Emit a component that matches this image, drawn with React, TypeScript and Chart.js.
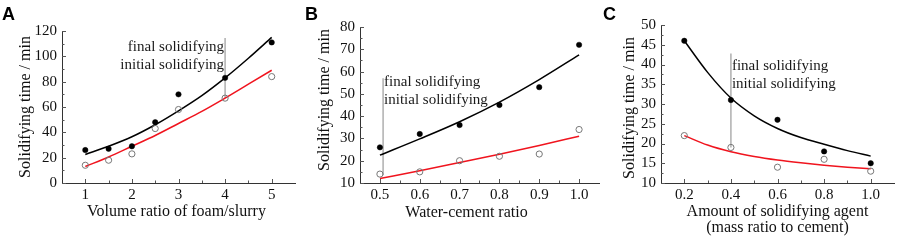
import React, { useEffect, useRef } from "react";
import { Chart, registerables } from "chart.js";
Chart.register(...registerables);

// ---------- Panel A data ----------
const A_X = [1, 1.5, 2, 2.5, 3, 4, 5];
const A_FINAL = [26, 27, 29, 48, 70, 83, 111];
const A_INITIAL = [14, 18, 23, 43, 58, 67, 84];
const A_FIT_X = [1, 1.5, 2, 2.5, 3, 3.5, 4, 4.5, 5];
const A_FIT_FINAL = [22.5, 29, 36.5, 46, 57, 69, 83, 98.5, 115];
const A_FIT_INITIAL = [13, 20.5, 29, 37.5, 47, 56.5, 67, 78, 89];
const A_XTICKS = [1, 2, 3, 4, 5];
const A_XLABELS = ["1", "2", "3", "4", "5"];
const A_XMINOR = [1.5, 2.5, 3.5, 4.5];
const A_YTICKS = [0, 20, 40, 60, 80, 100, 120];
const A_YLABELS = ["0", "20", "40", "60", "80", "100", "120"];
const A_YMINOR = [10, 30, 50, 70, 90, 110];

// ---------- Panel B data ----------
const B_X = [0.5, 0.6, 0.7, 0.8, 0.9, 1.0];
const B_FINAL = [26, 32, 36, 45, 53, 72];
const B_INITIAL = [14, 15, 20, 22, 23, 34];
const B_FIT_X = [0.5, 0.6, 0.7, 0.8, 0.9, 1.0];
const B_FIT_FINAL = [22.5, 29.8, 37.5, 46.3, 56.4, 67.5];
const B_FIT_INITIAL = [12, 15.5, 19.2, 22.9, 26.8, 31];
const B_XTICKS = [0.5, 0.6, 0.7, 0.8, 0.9, 1.0];
const B_XLABELS = ["0.5", "0.6", "0.7", "0.8", "0.9", "1.0"];
const B_XMINOR = [0.55, 0.65, 0.75, 0.85, 0.95];
const B_YTICKS = [10, 20, 30, 40, 50, 60, 70, 80];
const B_YLABELS = ["10", "20", "30", "40", "50", "60", "70", "80"];
const B_YMINOR = [15, 25, 35, 45, 55, 65, 75];

// ---------- Panel C data ----------
const C_X = [0.2, 0.4, 0.6, 0.8, 1.0];
const C_FINAL = [46, 31, 26, 18, 15];
const C_INITIAL = [22, 19, 14, 16, 13];
const C_FIT_X = [0.2, 0.3, 0.4, 0.5, 0.6, 0.7, 0.8, 0.9, 1.0];
const C_FIT_FINAL = [46, 38, 31.5, 27, 23.8, 21.5, 19.8, 18.2, 16.8];
const C_FIT_INITIAL = [22, 19.6, 17.9, 16.7, 15.8, 15.1, 14.5, 14, 13.6];
const C_XTICKS = [0.2, 0.4, 0.6, 0.8, 1.0];
const C_XLABELS = ["0.2", "0.4", "0.6", "0.8", "1.0"];
const C_XMINOR = [0.3, 0.5, 0.7, 0.9];
const C_YTICKS = [10, 15, 20, 25, 30, 35, 40, 45, 50];
const C_YLABELS = ["10", "15", "20", "25", "30", "35", "40", "45", "50"];
const C_YMINOR = [12.5, 17.5, 22.5, 27.5, 32.5, 37.5, 42.5, 47.5];

const Y_TITLE = "Solidifying time / min";
const LEGEND_FINAL = "final solidifying";
const LEGEND_INITIAL = "initial solidifying";

const SERIF = "'Liberation Serif', 'Times New Roman', serif";
const SANS = "'Liberation Sans', Arial, sans-serif";
const H = 240;

type Panel = {
  id: string;
  letter: string;
  letterX: number;
  canvasLeft: number;
  width: number;
  left: number;
  right: number;
  top: number;
  bottom: number;
  xMin: number;
  xMax: number;
  yMin: number;
  yMax: number;
  xs: number[];
  final: number[];
  initial: number[];
  fitX: number[];
  fitFinal: number[];
  fitInitial: number[];
  xTicks: number[];
  xLabels: string[];
  xMinor: number[];
  yTicks: number[];
  yLabels: string[];
  yMinor: number[];
  xTitle: string[];
  xTitleShift: number;
  xTitleBaselines: number[];
  yTitleX: number;
  yTitleCY: number;
  marker: { x: number; y0: number; y1: number };
  textSide: "left" | "right";
  textBaselines: number[];
};

const PANELS: Panel[] = [
  {
    id: "A", letter: "A", letterX: 2, canvasLeft: 0, width: 300,
    left: 62, right: 298, top: 31, bottom: 183,
    xMin: 0.5, xMax: 5.5, yMin: 0, yMax: 120,
    xs: A_X, final: A_FINAL, initial: A_INITIAL,
    fitX: A_FIT_X, fitFinal: A_FIT_FINAL, fitInitial: A_FIT_INITIAL,
    xTicks: A_XTICKS, xLabels: A_XLABELS, xMinor: A_XMINOR,
    yTicks: A_YTICKS, yLabels: A_YLABELS, yMinor: A_YMINOR,
    xTitle: ["Volume ratio of foam/slurry"], xTitleShift: -2, xTitleBaselines: [215.5],
    yTitleX: 30, yTitleCY: 107,
    marker: { x: 4, y0: 67, y1: 114.5 }, textSide: "left", textBaselines: [50.5, 69],
  },
  {
    id: "B", letter: "B", letterX: 5, canvasLeft: 300, width: 304,
    left: 60, right: 302, top: 27, bottom: 183,
    xMin: 0.45, xMax: 1.05, yMin: 10, yMax: 80,
    xs: B_X, final: B_FINAL, initial: B_INITIAL,
    fitX: B_FIT_X, fitFinal: B_FIT_FINAL, fitInitial: B_FIT_INITIAL,
    xTicks: B_XTICKS, xLabels: B_XLABELS, xMinor: B_XMINOR,
    yTicks: B_YTICKS, yLabels: B_YLABELS, yMinor: B_YMINOR,
    xTitle: ["Water-cement ratio"], xTitleShift: -13, xTitleBaselines: [216.5],
    yTitleX: 29, yTitleCY: 100,
    marker: { x: 0.508, y0: 13.5, y1: 57 }, textSide: "right", textBaselines: [86, 104],
  },
  {
    id: "C", letter: "C", letterX: 3, canvasLeft: 600, width: 299,
    left: 61, right: 297, top: 25, bottom: 183,
    xMin: 0.1, xMax: 1.1, yMin: 10, yMax: 50,
    xs: C_X, final: C_FINAL, initial: C_INITIAL,
    fitX: C_FIT_X, fitFinal: C_FIT_FINAL, fitInitial: C_FIT_INITIAL,
    xTicks: C_XTICKS, xLabels: C_XLABELS, xMinor: C_XMINOR,
    yTicks: C_YTICKS, yLabels: C_YLABELS, yMinor: C_YMINOR,
    xTitle: ["Amount of solidifying agent", "(mass ratio to cement)"], xTitleShift: 0,
    xTitleBaselines: [215.5, 232],
    yTitleX: 34, yTitleCY: 108,
    marker: { x: 0.4, y0: 19, y1: 42.8 }, textSide: "right", textBaselines: [69.5, 87.5],
  },
];

const zip = (xs: number[], ys: number[]) => xs.map((x, i) => ({ x, y: ys[i] }));

function makeDeco(p: Panel) {
  return {
    id: "deco" + p.id,
    beforeDatasetsDraw(chart: any) {
      const { ctx, scales } = chart;
      const xs = scales.x;
      const ys = scales.y;
      const mx = xs.getPixelForValue(p.marker.x);
      ctx.save();
      ctx.strokeStyle = "#b4b4b4";
      ctx.lineWidth = 1.6;
      ctx.beginPath();
      ctx.moveTo(mx, ys.getPixelForValue(p.marker.y0));
      ctx.lineTo(mx, ys.getPixelForValue(p.marker.y1));
      ctx.stroke();
      ctx.restore();
    },
    afterDraw(chart: any) {
      const { ctx, scales, chartArea } = chart;
      const xs = scales.x;
      const ys = scales.y;
      ctx.save();
      // inward tick marks
      ctx.strokeStyle = "#555";
      ctx.lineWidth = 1;
      ctx.beginPath();
      const b = chartArea.bottom;
      const l = chartArea.left;
      p.xTicks.forEach((v) => {
        const px = Math.round(xs.getPixelForValue(v)) + 0.5;
        ctx.moveTo(px, b);
        ctx.lineTo(px, b - 4);
      });
      p.xMinor.forEach((v) => {
        const px = Math.round(xs.getPixelForValue(v)) + 0.5;
        ctx.moveTo(px, b);
        ctx.lineTo(px, b - 2.5);
      });
      p.yTicks.forEach((v) => {
        const py = Math.round(ys.getPixelForValue(v)) + 0.5;
        ctx.moveTo(l, py);
        ctx.lineTo(l + 4, py);
      });
      p.yMinor.forEach((v) => {
        const py = Math.round(ys.getPixelForValue(v)) + 0.5;
        ctx.moveTo(l, py);
        ctx.lineTo(l + 2.5, py);
      });
      ctx.stroke();

      // axis titles
      ctx.fillStyle = "#111";
      ctx.font = `16px ${SERIF}`;
      ctx.textAlign = "center";
      ctx.textBaseline = "alphabetic";
      const cx = (chartArea.left + chartArea.right) / 2 + p.xTitleShift;
      p.xTitle.forEach((t, i) => ctx.fillText(t, cx, p.xTitleBaselines[i]));
      ctx.save();
      ctx.translate(p.yTitleX, p.yTitleCY);
      ctx.rotate(-Math.PI / 2);
      ctx.fillText(Y_TITLE, 0, 0);
      ctx.restore();

      // legend-like annotation text
      const mx = xs.getPixelForValue(p.marker.x);
      ctx.font = `15px ${SERIF}`;
      ctx.fillStyle = "#1a1a1a";
      if (p.textSide === "left") {
        ctx.textAlign = "right";
        ctx.fillText(LEGEND_FINAL, mx - 1, p.textBaselines[0]);
        ctx.fillText(LEGEND_INITIAL, mx - 1, p.textBaselines[1]);
      } else {
        ctx.textAlign = "left";
        ctx.fillText(LEGEND_FINAL, mx + 1, p.textBaselines[0]);
        ctx.fillText(LEGEND_INITIAL, mx + 1, p.textBaselines[1]);
      }

      // panel letter
      ctx.font = `bold 18px ${SANS}`;
      ctx.fillStyle = "#000";
      ctx.textAlign = "left";
      ctx.fillText(p.letter, p.letterX, 20);
      ctx.restore();
    },
  };
}

function PanelChart({ p }: { p: Panel }) {
  const ref = useRef<HTMLCanvasElement | null>(null);
  useEffect(() => {
    if (!ref.current) return;
    const tickFont = { family: SERIF, size: 15 };
    const chart = new Chart(ref.current, {
      type: "scatter",
      data: {
        datasets: [
          {
            type: "scatter",
            data: zip(p.xs, p.final),
            pointRadius: 2.7,
            pointBackgroundColor: "#000",
            pointBorderColor: "#000",
            pointBorderWidth: 0.5,
            showLine: false,
          },
          {
            type: "scatter",
            data: zip(p.xs, p.initial),
            pointRadius: 3.1,
            pointBackgroundColor: "rgba(255,255,255,0)",
            pointBorderColor: "#777",
            pointBorderWidth: 1,
            showLine: false,
          },
          {
            type: "line",
            data: zip(p.fitX, p.fitFinal),
            borderColor: "#000",
            borderWidth: 1.5,
            pointRadius: 0,
            cubicInterpolationMode: "monotone",
            fill: false,
          },
          {
            type: "line",
            data: zip(p.fitX, p.fitInitial),
            borderColor: "#f0141e",
            borderWidth: 1.5,
            pointRadius: 0,
            cubicInterpolationMode: "monotone",
            fill: false,
          },
        ] as any,
      },
      options: {
        animation: false,
        responsive: false,
        maintainAspectRatio: false,
        devicePixelRatio: 1,
        events: [],
        layout: { padding: { left: 0, right: p.width - p.right, top: p.top, bottom: 0 } },
        plugins: { legend: { display: false }, tooltip: { enabled: false }, title: { display: false } },
        scales: {
          x: {
            type: "linear",
            position: "bottom",
            min: p.xMin,
            max: p.xMax,
            grid: { display: false, drawTicks: false },
            border: { display: true, color: "#333", width: 1 },
            ticks: {
              padding: 3,
              font: tickFont,
              color: "#111",
              autoSkip: false,
              maxRotation: 0,
              callback: (_v: any, i: number) => p.xLabels[i] ?? "",
            },
            afterBuildTicks: (s: any) => {
              s.ticks = p.xTicks.map((v) => ({ value: v }));
            },
            afterFit: (s: any) => {
              s.height = H - p.bottom;
            },
          },
          y: {
            type: "linear",
            position: "left",
            min: p.yMin,
            max: p.yMax,
            grid: { display: false, drawTicks: false },
            border: { display: true, color: "#333", width: 1 },
            ticks: {
              padding: 5,
              font: tickFont,
              color: "#111",
              autoSkip: false,
              callback: (_v: any, i: number) => p.yLabels[i] ?? "",
            },
            afterBuildTicks: (s: any) => {
              s.ticks = p.yTicks.map((v) => ({ value: v }));
            },
            afterFit: (s: any) => {
              s.width = p.left;
            },
          },
        },
      } as any,
      plugins: [makeDeco(p)],
    });
    return () => chart.destroy();
  }, [p]);
  return (
    <canvas
      ref={ref}
      width={p.width}
      height={H}
      style={{ position: "absolute", left: p.canvasLeft, top: 0, width: p.width, height: H }}
    />
  );
}

export default function App() {
  return (
    <div
      style={{
        position: "absolute",
        left: 0,
        top: 0,
        width: 899,
        height: H,
        background: "#fff",
        overflow: "hidden",
      }}
    >
      {PANELS.map((p) => (
        <PanelChart key={p.id} p={p} />
      ))}
    </div>
  );
}
